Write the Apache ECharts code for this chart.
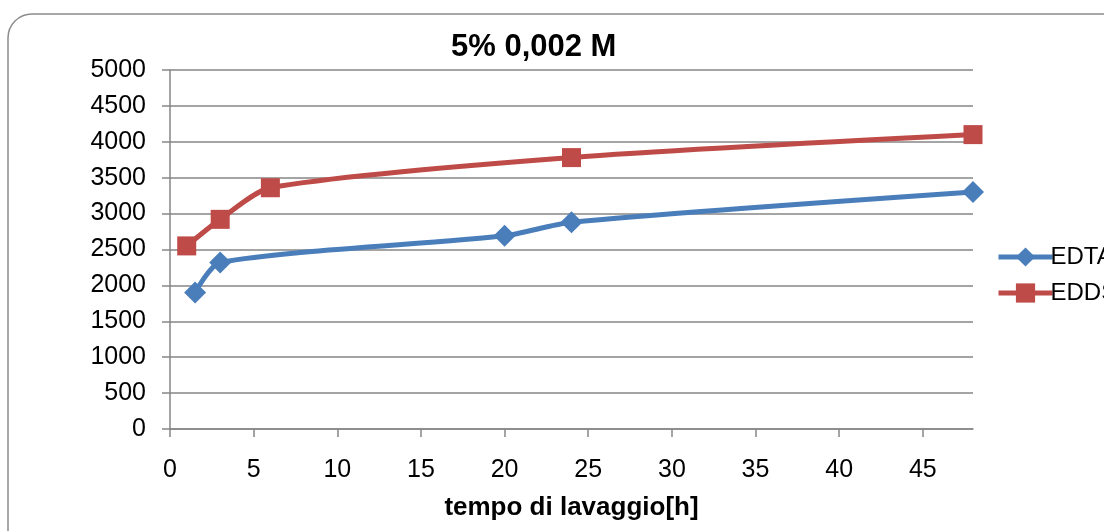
<!DOCTYPE html>
<html>
<head>
	<meta charset="utf-8">
	<script src="https://cdn.jsdelivr.net/npm/echarts@6/dist/echarts.min.js"></script>
	<style>
		html, body { margin: 0; padding: 0; background: #fff; }
	</style>
</head>
<body>
	<div id="main" style="width: 1104px; height: 531px;"></div>
<script type="text/javascript">
        // dati
        var xTicks = [0, 5, 10, 15, 20, 25, 30, 35, 40, 45];
        var edtaOre = [1.5, 3, 20, 24, 48];
        var edtaValori = [1900, 2320, 2690, 2880, 3300];
        var eddsOre = [1, 3, 6, 24, 48];
        var eddsValori = [2550, 2920, 3360, 3780, 4100];

        var coppie = function (xs, ys) {
            var res = [];
            for (var i = 0; i < xs.length; i++) {
                res.push([xs[i], ys[i]]);
            }
            return res;
        };

        var myChart = echarts.init(document.getElementById('main'));
        var font = 'Liberation Sans, Arial, sans-serif';

        var option = {
            backgroundColor: '#fff',
            animation: false,
            textStyle: { fontFamily: font },
            graphic: [{
                type: 'rect',
                shape: { x: 8, y: 14, width: 1200, height: 600, r: 24 },
                style: { fill: 'none', stroke: '#8c8c8c', lineWidth: 1.5 },
                silent: true
            }],
            title: {
                text: '5% 0,002 M',
                left: 446,
                top: 27,
                textStyle: { fontFamily: font, fontSize: 31, fontWeight: 'bold', color: '#000' }
            },
            legend: {
                orient: 'vertical',
                left: 991,
                top: 240,
                itemWidth: 54,
                itemHeight: 24,
                itemGap: 12,
                lineStyle: { width: 5 },
                textStyle: { fontFamily: font, fontSize: 24, color: '#000', padding: [0, 0, 0, -7] },
                data: ['EDTA', 'EDDS']
            },
            grid: {
                left: 170,
                right: 131,
                top: 70,
                bottom: 102,
                containLabel: false
            },
            xAxis: {
                type: 'value',
                min: 0,
                max: 48,
                interval: 5,
                name: 'tempo di lavaggio[h]',
                nameLocation: 'middle',
                nameGap: 66,
                nameTextStyle: { fontFamily: font, fontSize: 26, fontWeight: 'bold', color: '#000' },
                axisLine: { lineStyle: { color: '#868686', width: 1.5 } },
                axisTick: { show: true, length: 8, lineStyle: { color: '#868686', width: 1.5 }, customValues: xTicks },
                axisLabel: { fontSize: 25, color: '#000', margin: 29, customValues: xTicks },
                splitLine: { show: false }
            },
            yAxis: {
                type: 'value',
                min: 0,
                max: 5000,
                interval: 500,
                axisLine: { show: true, lineStyle: { color: '#868686', width: 1.5 } },
                axisTick: { show: true, length: 8, lineStyle: { color: '#868686', width: 1.5 } },
                axisLabel: {
                    fontSize: 25, color: '#000', margin: 24,
                    formatter: function (v) { return String(v); }
                },
                splitLine: { show: true, lineStyle: { color: '#868686', width: 1.5 } }
            },
            series: [
                {
                    name: 'EDTA',
                    type: 'line',
                    smooth: 0.25,
                    data: coppie(edtaOre, edtaValori),
                    symbol: 'diamond',
                    symbolSize: 22,
                    lineStyle: { color: '#4a7ebb', width: 5 },
                    itemStyle: { color: '#4a7ebb' },
                    z: 3
                },
                {
                    name: 'EDDS',
                    type: 'line',
                    smooth: 0.25,
                    data: coppie(eddsOre, eddsValori),
                    symbol: 'rect',
                    symbolSize: 19,
                    lineStyle: { color: '#be4b48', width: 5 },
                    itemStyle: { color: '#be4b48' },
                    z: 3
                }
            ]
        };

        myChart.setOption(option);
    </script>
</body>
</html>
